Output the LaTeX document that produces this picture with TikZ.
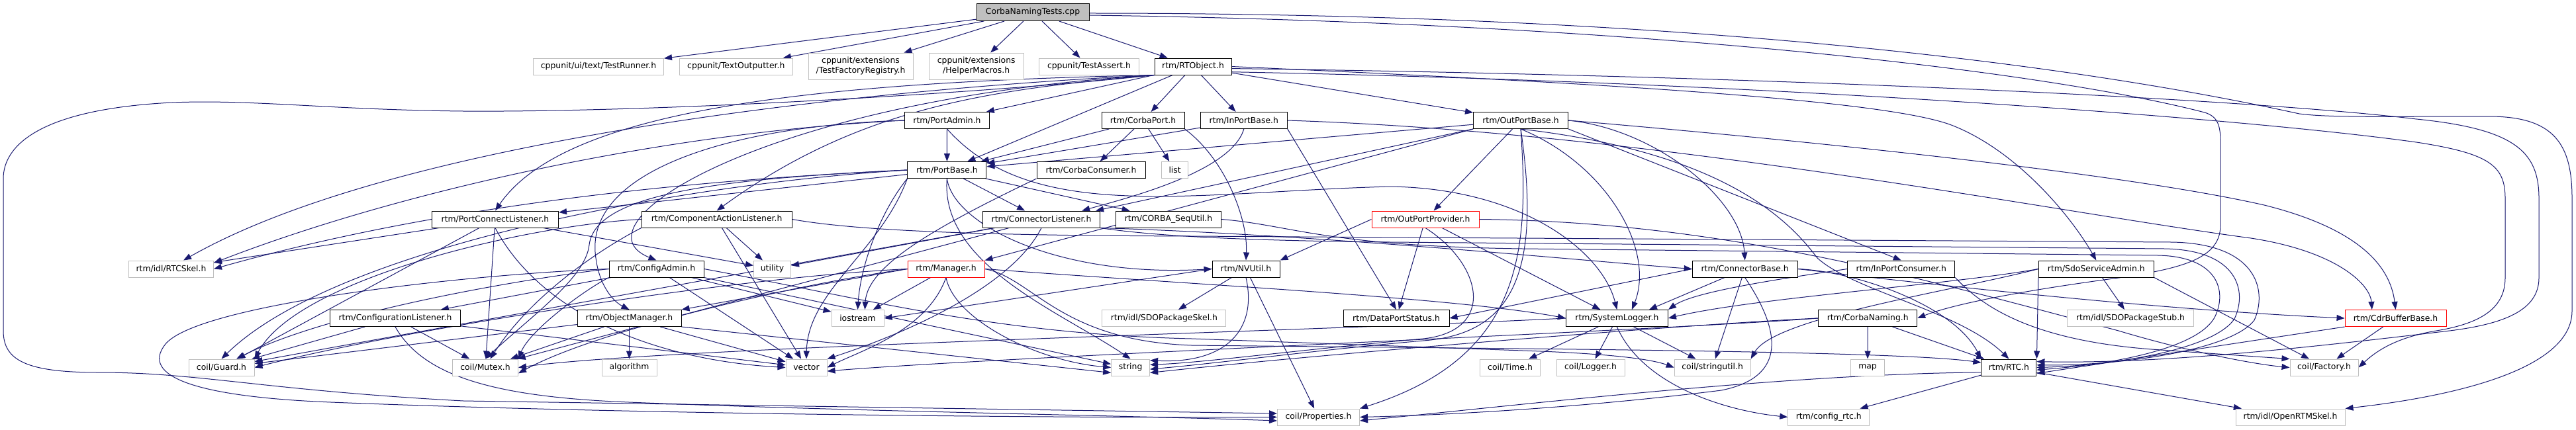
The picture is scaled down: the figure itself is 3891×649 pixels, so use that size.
\documentclass[tikz,border=0pt]{standalone}
\usepackage{fontspec}
\newfontfamily\dvfont{DejaVu Sans}
\usetikzlibrary{arrows.meta}
\definecolor{eblue}{HTML}{191970}
\definecolor{lgray}{HTML}{BFBFBF}
\pgfdeclarelayer{bg}
\pgfsetlayers{bg,main}
\tikzset{
 nbox/.style={rectangle, inner sep=0pt, minimum height=12.5pt, fill=white, line width=0.5pt, align=center, font=\dvfont\fontsize{6.2pt}{7.5pt}\selectfont, text=black},
 docn/.style={nbox, draw=black},
 extn/.style={nbox, draw=lgray},
 trn/.style={nbox, draw=red},
 rootn/.style={nbox, draw=black, fill=lgray},
 edg/.style={draw=eblue, line width=0.5pt, -{Triangle[length=6pt,width=4.5pt]}},
}
\begin{document}
\begin{tikzpicture}[x=0.5pt,y=-0.5pt]
\useasboundingbox (0,0) rectangle (3891,649);
% nodes
\node[rootn,minimum width=85pt,minimum height=13pt] (T) at (1560,18.5) {CorbaNamingTests.cpp};
\node[extn,minimum width=98.5pt] (TR) at (904,100.5) {cppunit/ui/text/TestRunner.h};
\node[extn,minimum width=85.5pt] (TO) at (1111.8,100.5) {cppunit/TextOutputter.h};
\node[extn,minimum width=79pt,minimum height=20pt] (TF) at (1300,100) {cppunit/extensions\\/TestFactoryRegistry.h};
\node[extn,minimum width=71.5pt,minimum height=20pt] (HM) at (1474.7,100) {cppunit/extensions\\/HelperMacros.h};
\node[extn,minimum width=75.5pt] (TA) at (1645,100.5) {cppunit/TestAssert.h};
\node[docn,minimum width=58pt] (RO) at (1802,100.5) {rtm/RTObject.h};
\node[docn,minimum width=64pt] (PA) at (1430.5,182) {rtm/PortAdmin.h};
\node[docn,minimum width=62.5pt] (CP) at (1726.5,182) {rtm/CorbaPort.h};
\node[docn,minimum width=65.5pt] (IPB) at (1878.8,182) {rtm/InPortBase.h};
\node[docn,minimum width=71.5pt] (OPB) at (2297,182) {rtm/OutPortBase.h};
\node[docn,minimum width=59.5pt] (PB) at (1430.4,257) {rtm/PortBase.h};
\node[docn,minimum width=82pt] (CC) at (1648,257) {rtm/CorbaConsumer.h};
\node[extn,minimum width=20pt] (LIST) at (1774.6,257) {list};
\node[docn,minimum width=95.5pt] (PCL) at (748,331.5) {rtm/PortConnectListener.h};
\node[docn,minimum width=113.5pt] (CAL) at (1082.6,331.5) {rtm/ComponentActionListener.h};
\node[docn,minimum width=88.5pt] (CL) at (1573,331.5) {rtm/ConnectorListener.h};
\node[docn,minimum width=79.5pt] (CSU) at (1765,331.5) {rtm/CORBA\_SeqUtil.h};
\node[trn,minimum width=81pt] (OPP) at (2153,331.5) {rtm/OutPortProvider.h};
\node[extn,minimum width=64pt] (RTCS) at (258.5,406.5) {rtm/idl/RTCSkel.h};
\node[docn,minimum width=71.5pt] (CA) at (991.5,406.5) {rtm/ConfigAdmin.h};
\node[extn,minimum width=28pt] (UT) at (1166.5,406.5) {utility};
\node[trn,minimum width=58pt] (MGR) at (1429,406.5) {rtm/Manager.h};
\node[docn,minimum width=51pt] (NV) at (1882,406.5) {rtm/NVUtil.h};
\node[docn,minimum width=79.5pt] (CB) at (2635.6,406.5) {rtm/ConnectorBase.h};
\node[docn,minimum width=81pt] (IPC) at (2871.8,406.5) {rtm/InPortConsumer.h};
\node[docn,minimum width=87pt] (SSA) at (3166.3,406.5) {rtm/SdoServiceAdmin.h};
\node[docn,minimum width=98.5pt] (CFL) at (597,481) {rtm/ConfigurationListener.h};
\node[docn,minimum width=78.5pt] (OM) at (950.5,481) {rtm/ObjectManager.h};
\node[extn,minimum width=39.5pt] (IOS) at (1295.5,481) {iostream};
\node[extn,minimum width=93.5pt] (SDS) at (1758.4,481) {rtm/idl/SDOPackageSkel.h};
\node[docn,minimum width=80pt] (DPS) at (2109,481) {rtm/DataPortStatus.h};
\node[docn,minimum width=77pt] (SL) at (2442.4,481) {rtm/SystemLogger.h};
\node[docn,minimum width=74.5pt] (CN) at (2821.2,481) {rtm/CorbaNaming.h};
\node[extn,minimum width=95.5pt] (SDST) at (3218,481) {rtm/idl/SDOPackageStub.h};
\node[trn,minimum width=76.5pt] (CDR) at (3618.5,481) {rtm/CdrBufferBase.h};
\node[extn,minimum width=49.5pt] (GU) at (334.5,555.5) {coil/Guard.h};
\node[extn,minimum width=49.5pt] (MU) at (733,555.5) {coil/Mutex.h};
\node[extn,minimum width=41.5pt] (ALG) at (950.5,555.5) {algorithm};
\node[extn,minimum width=31pt] (VEC) at (1218,555.5) {vector};
\node[extn,minimum width=29pt] (STR) at (1707.6,555.5) {string};
\node[extn,minimum width=45.5pt] (TIME) at (2281,555.5) {coil/Time.h};
\node[extn,minimum width=51.5pt] (LOG) at (2402.5,555.5) {coil/Logger.h};
\node[extn,minimum width=57.5pt] (SU) at (2586.6,555.5) {coil/stringutil.h};
\node[extn,minimum width=25.5pt] (MAP) at (2821,555.5) {map};
\node[docn,minimum width=41.5pt] (RTC) at (3034.4,555.5) {rtm/RTC.h};
\node[extn,minimum width=51.5pt] (FAC) at (3510.5,555.5) {coil/Factory.h};
\node[extn,minimum width=62pt] (PROP) at (1991.5,630.5) {coil/Properties.h};
\node[extn,minimum width=61.5pt] (CRTC) at (2762.3,630.5) {rtm/config\_rtc.h};
\node[extn,minimum width=82.5pt] (ORS) at (3459.5,630.5) {rtm/idl/OpenRTMSkel.h};

\begin{pgfonlayer}{bg}
\fill[white] (0,0) rectangle (3891,649);
% root
\draw[edg] (T) -- (TR);
\draw[edg] (T) -- (TO);
\draw[edg] (T) -- (TF);
\draw[edg] (T) -- (HM);
\draw[edg] (T) -- (TA);
\draw[edg] (T) -- (RO);
\draw[edg] (T.-1) .. controls (2500,20) and (3100,90) .. (3473,172) .. controls (3520,178) and (3600,176) .. (3760,176) .. controls (3860,176) and (3885,220) .. (3885,300) -- (3885,470) .. controls (3885,560) and (3700,600) .. (ORS.north east);
\draw[edg] (T.-3) .. controls (2500,35) and (3100,110) .. (3330,170) .. controls (3350,176) and (3354,190) .. (3354,215) -- (3354,340) .. controls (3354,390) and (3300,405) .. (3200,420) .. controls (3050,440) and (2950,460) .. (CN.east);
% RTObject
\draw[edg] (RO) -- (PA);
\draw[edg] (RO) -- (CP);
\draw[edg] (RO) -- (IPB);
\draw[edg] (RO) -- (OPB);
\draw[edg] (RO) -- (PB);
\draw[edg] (RO.south west) .. controls (1200,125) and (850,170) .. (PCL.north);
\draw[edg] (RO.south west) .. controls (1500,135) and (1300,160) .. (CAL.north);
\draw[edg] (RO.south west) .. controls (1150,150) and (860,340) .. (CA.north);
\draw[edg] (RO.south west) .. controls (1300,135) and (600,210) .. (RTCS.35);
\draw[edg] (RO.south west) .. controls (1500,140) and (1000,170) .. (700,168) .. controls (500,166) and (380,150) .. (260,155) .. controls (60,165) and (5,220) .. (5,270) -- (5,500) .. controls (5,545) and (40,563) .. (150,563) .. controls (300,563) and (400,590) .. (700,606) -- (PROP.175);
\draw[edg] (RO.east) .. controls (2400,125) and (2850,150) .. (2950,190) .. controls (3050,230) and (3130,330) .. (SSA.north);
\draw[edg] (RO.-3) .. controls (2700,115) and (3400,150) .. (3650,180) .. controls (3800,195) and (3835,230) .. (3835,300) -- (3835,420) .. controls (3835,470) and (3780,490) .. (3700,500) .. controls (3450,530) and (3250,550) .. (RTC.12);
\draw[edg] (RO.-8) .. controls (2700,125) and (3400,180) .. (3650,215) .. controls (3760,232) and (3784,250) .. (3784,300) -- (3784,420) .. controls (3784,470) and (3740,490) .. (3680,500) .. controls (3620,510) and (3590,530) .. (FAC.east);
% PortAdmin
\draw[edg] (PA) -- (PB);
\draw[edg] (PA.west) .. controls (1100,190) and (880,260) .. (900,390) .. controls (905,430) and (925,455) .. (OM.north);
\draw[edg] (PA.west) .. controls (1000,200) and (600,290) .. (RTCS.8);
\draw[edg] (PA.south) .. controls (1560,340) and (1800,290) .. (2100,282) .. controls (2300,285) and (2420,380) .. (SL.north);
% CorbaPort
\draw[edg] (CP) -- (PB);
\draw[edg] (CP) -- (CC);
\draw[edg] (CP) -- (LIST);
\draw[edg] (CP.south east) .. controls (1850,240) and (1885,330) .. (NV.north);
% InPortBase
\draw[edg] (IPB) -- (PB);
\draw[edg] (IPB.south) .. controls (1860,260) and (1700,300) .. (CL.12);
\draw[edg] (IPB.south east) -- (DPS.north);
\draw[edg] (IPB.east) .. controls (2500,200) and (3100,320) .. (3400,360) .. controls (3530,380) and (3580,430) .. (CDR.160);
% OutPortBase
\draw[edg] (OPB) -- (PB);
\draw[edg] (OPB) -- (OPP);
\draw[edg] (OPB.east) .. controls (2500,195) and (2630,300) .. (CB.north);
\draw[edg] (OPB.south east) -- (IPC.north);
\draw[edg] (OPB.south) .. controls (2430,250) and (2500,380) .. (SL.30);
\draw[edg] (OPB.east) .. controls (2700,210) and (3200,260) .. (3420,310) .. controls (3560,345) and (3610,400) .. (CDR.north);
\draw[edg] (OPB.south) .. controls (2310,380) and (2300,540) .. (PROP.north east);
\draw[edg] (OPB.south) .. controls (2330,420) and (2280,505) .. (2150,515) .. controls (2000,528) and (1850,548) .. (STR.-5);
\draw[edg] (OPB.south west) -- (MGR.north east);
\draw[edg] (OPB.south west) -- (CL.9);
\draw[edg] (OPB.south) .. controls (2600,230) and (2700,330) .. (2745,390) .. controls (2800,440) and (2960,470) .. (RTC.north);
% PortBase
\draw[edg] (PB) -- (PCL);
\draw[edg] (PB) -- (CL);
\draw[edg] (PB) -- (CSU);
\draw[edg] (PB.south) .. controls (1440,340) and (1600,420) .. (NV.west);
\draw[edg] (PB.south) .. controls (1420,400) and (1600,470) .. (STR.north);
\draw[edg] (PB.south west) .. controls (1330,320) and (1300,400) .. (IOS.north);
\draw[edg] (PB.west) .. controls (1100,270) and (700,300) .. (RTCS.east);
\draw[edg] (PB.west) .. controls (1000,280) and (500,380) .. (GU.north);
\draw[edg] (PB.west) .. controls (1100,270) and (900,290) .. (890,370) .. controls (885,420) and (800,480) .. (MU.north);
\draw[edg] (PB.south west) .. controls (1330,380) and (1220,440) .. (VEC.north);
% CorbaConsumer
\draw[edg] (CC.south west) .. controls (1420,340) and (1310,400) .. (IOS.50);
% PortConnectListener
\draw[edg] (PCL) -- (UT);
\draw[edg] (PCL) -- (GU);
\draw[edg] (PCL) -- (MU);
\draw[edg] (PCL.south) .. controls (820,480) and (1000,545) .. (VEC.west);
\draw[edg] (PCL) -- (RTCS);
% ComponentActionListener
\draw[edg] (CAL) -- (UT);
\draw[edg] (CAL) -- (VEC);
\draw[edg] (CAL.south west) .. controls (900,380) and (800,450) .. (MU.60);
\draw[edg] (CAL.west) .. controls (800,340) and (450,420) .. (GU.north east);
\draw[edg] (CAL.east) .. controls (1300,350) and (1500,356) .. (1800,357) -- (3280,366) .. controls (3410,368) and (3425,440) .. (3405,484) .. controls (3370,530) and (3200,553) .. (RTC.5);
% ConnectorListener
\draw[edg] (CL) -- (UT);
\draw[edg] (CL.south east) .. controls (2000,355) and (2400,395) .. (CB.west);
\draw[edg] (CL) -- (MU);
\draw[edg] (CL) -- (GU);
\draw[edg] (CL.south) .. controls (1530,430) and (1380,500) .. (VEC.north east);
\draw[edg] (CL.south east) .. controls (1750,358) and (1900,364) .. (2100,366) -- (3270,376) .. controls (3380,378) and (3395,440) .. (3375,482) .. controls (3345,527) and (3200,552) .. (RTC.east);
% CORBA_SeqUtil
\draw[edg] (CSU.east) .. controls (1950,340) and (2000,372) .. (2300,376) -- (3260,386) .. controls (3350,388) and (3365,440) .. (3345,480) .. controls (3320,525) and (3200,550) .. (RTC.-5);
% OutPortProvider
\draw[edg] (OPP) -- (DPS);
\draw[edg] (OPP) -- (SL);
\draw[edg] (OPP.south) .. controls (2240,400) and (2260,500) .. (2150,512) .. controls (1950,530) and (1820,548) .. (STR.8);
\draw[edg] (OPP.west) -- (NV.north east);
\draw[edg] (OPP.east) .. controls (2600,335) and (2900,420) .. (3200,500) .. controls (3300,530) and (3400,550) .. (FAC.west);
% NVUtil
\draw[edg] (NV.west) -- (IOS.east);
\draw[edg] (NV) -- (SDS);
\draw[edg] (NV.south) .. controls (1900,500) and (1850,550) .. (STR.20);
\draw[edg] (NV) -- (PROP);
% Manager
\draw[edg] (MGR.west) -- (OM.north east);
\draw[edg] (MGR) -- (IOS);
\draw[edg] (MGR.south) .. controls (1440,480) and (1560,545) .. (STR.west);
\draw[edg] (MGR.south) .. controls (1400,500) and (1300,530) .. (VEC.east);
\draw[edg] (MGR.west) .. controls (1200,430) and (900,500) .. (MU.-10);
\draw[edg] (MGR.west) .. controls (1100,420) and (600,500) .. (GU.east);
\draw[edg] (MGR.east) .. controls (1800,430) and (2200,450) .. (SL.west);
\draw[edg] (MGR.east) .. controls (1560,420) and (1600,515) .. (1800,522) -- (2200,526) .. controls (2600,530) and (2900,535) .. (RTC.170);
% ConfigAdmin
\draw[edg] (CA) -- (CFL);
\draw[edg] (CA) -- (IOS);
\draw[edg] (CA) -- (VEC);
\draw[edg] (CA.south east) -- (STR.170);
\draw[edg] (CA.south west) .. controls (880,440) and (800,500) .. (MU.north east);
\draw[edg] (CA.west) .. controls (800,420) and (500,470) .. (GU.30);
\draw[edg] (CA.east) .. controls (1300,450) and (1500,505) .. (1800,512) -- (2300,530) .. controls (2450,535) and (2500,545) .. (SU.west);
\draw[edg] (CA.west) .. controls (700,415) and (300,460) .. (250,520) .. controls (210,570) and (300,600) .. (500,608) .. controls (1000,628) and (1700,632) .. (PROP.west);
% ConfigurationListener
\draw[edg] (CFL) -- (GU);
\draw[edg] (CFL) -- (MU);
\draw[edg] (CFL) -- (VEC);
\draw[edg] (CFL.south) .. controls (640,570) and (750,600) .. (950,608) .. controls (1300,622) and (1700,628) .. (PROP.185);
% ObjectManager
\draw[edg] (OM) -- (ALG);
\draw[edg] (OM) -- (VEC);
\draw[edg] (OM) -- (MU);
\draw[edg] (OM) -- (GU);
\draw[edg] (OM.south east) -- (STR.195);
% SystemLogger
\draw[edg] (SL) -- (TIME);
\draw[edg] (SL) -- (LOG);
\draw[edg] (SL) -- (SU);
\draw[edg] (SL.south) .. controls (2480,580) and (2600,620) .. (CRTC.west);
\draw[edg] (SL.west) .. controls (2000,500) and (1000,525) .. (MU.east);
% ConnectorBase
\draw[edg] (CB) -- (SL.15);
\draw[edg] (CB) -- (SU);
\draw[edg] (CB.south) .. controls (2690,500) and (2700,570) .. (2600,590) .. controls (2400,615) and (2200,627) .. (PROP.east);
\draw[edg] (CB.east) .. controls (2800,410) and (2950,460) .. (RTC.north west);
\draw[edg] (CB.west) -- (DPS.east);
\draw[edg] (CB.east) .. controls (3000,440) and (3300,470) .. (CDR.west);
% InPortConsumer
\draw[edg] (IPC.west) .. controls (2700,420) and (2560,440) .. (SL.north east);
\draw[edg] (IPC.south east) .. controls (3000,470) and (3080,515) .. (3250,528) .. controls (3350,535) and (3420,540) .. (FAC.north west);
% CorbaNaming
\draw[edg] (CN) -- (MAP);
\draw[edg] (CN) -- (RTC);
\draw[edg] (CN.west) .. controls (2550,490) and (2000,535) .. (STR.-15);
\draw[edg] (CN.west) .. controls (2500,500) and (1500,540) .. (VEC.-10);
% SdoServiceAdmin
\draw[edg] (SSA) -- (SDST);
\draw[edg] (SSA.south east) -- (FAC.150);
\draw[edg] (SSA.west) .. controls (2950,430) and (2650,450) .. (SL.east);
\draw[edg] (SSA.south west) -- (RTC.north east);
\draw[edg] (SSA.west) .. controls (2950,440) and (2680,480) .. (SU.north east);
% CdrBufferBase
\draw[edg] (CDR) -- (FAC);
\draw[edg] (CDR.south west) -- (RTC.-12);
% RTC
\draw[edg] (RTC) -- (CRTC);
\draw[edg] (RTC.190) .. controls (2700,565) and (2300,612) .. (PROP.-5);
\draw[edg] (RTC) -- (ORS);
\end{pgfonlayer}
\end{tikzpicture}
\end{document}
